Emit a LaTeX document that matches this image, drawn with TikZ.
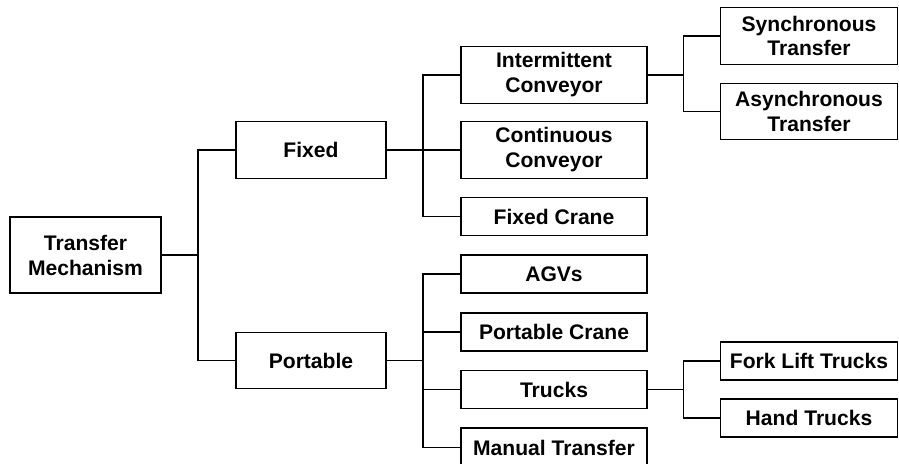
\documentclass[tikz,border=0pt]{standalone}
\usepackage{fontspec}
\setmainfont{Liberation Sans}
\usepackage{tikz}
\usetikzlibrary{positioning}

\tikzset{
    box/.style={draw, line width=0.7pt, align=center, inner sep=0pt,
        font=\fontsize{12}{14.2}\selectfont\bfseries},
    lvlone/.style={box, minimum width=3.0cm},
    lvltwo/.style={box, minimum width=3.72cm},
    lvlthree/.style={box, minimum width=3.53cm},
    tall/.style={minimum height=1.13cm},
    flat/.style={minimum height=0.76cm},
    link/.style={line width=0.6pt}
}

\begin{document}
\begin{tikzpicture}[scale=1]

        \useasboundingbox (0,0) rectangle (17.98,9.28);

        \coordinate (j1) at (3.96,0);
        \coordinate (j2) at (8.46,0);
        \coordinate (j3) at (13.67,0);

        \node[box, minimum width=3.02cm, minimum height=1.52cm] (mech) at (1.71,4.18) {Transfer\\Mechanism};

        \node[lvlone, tall] (fixed) at (6.22,6.28) {Fixed};
        \node[lvlone, tall] (portable) at (6.22,2.07) {Portable};

        \node[lvltwo, tall] (interm) at (11.08,7.78) {Intermittent\\Conveyor};
        \node[lvltwo, tall] (contin) at (11.08,6.28) {Continuous\\Conveyor};
        \node[lvltwo, flat] (fcrane) at (11.08,4.95) {Fixed Crane};
        \node[lvltwo, flat] (agvs) at (11.08,3.80) {AGVs};
        \node[lvltwo, flat] (pcrane) at (11.08,2.64) {Portable Crane};
        \node[lvltwo, flat] (trucks) at (11.08,1.49) {Trucks};
        \node[lvltwo, minimum height=0.78cm] (manual) at (11.08,0.33) {Manual Transfer};

        \node[lvlthree, tall] (sync) at (16.18,8.56) {Synchronous\\Transfer};
        \node[lvlthree, tall] (async) at (16.18,7.05) {Asynchronous\\Transfer};
        \node[lvlthree, flat] (forklift) at (16.18,2.06) {Fork Lift Trucks};
        \node[lvlthree, flat] (hand) at (16.18,0.92) {Hand Trucks};

        \path[draw, link] (mech.east) -- (mech.east -| j1);
        \path[draw, link] (fixed.west) -| (mech.east -| j1) |- (portable.west);

        \path[draw, link] (fixed.east) -- (fixed.east -| j2);
        \path[draw, link] (interm.west) -| (fixed.east -| j2) |- (fcrane.west);
        \path[draw, link] (contin.west) -- (contin.west -| j2);

        \path[draw, link] (portable.east) -- (portable.east -| j2);
        \path[draw, link] (agvs.west) -| (portable.east -| j2) |- (manual.west);
        \foreach \n in {pcrane,trucks}
            \path[draw, link] (\n.west) -- (\n.west -| j2);

        \path[draw, link] (interm.east) -- (interm.east -| j3);
        \path[draw, link] (sync.west) -| (interm.east -| j3) |- (async.west);

        \path[draw, link] (trucks.east) -- (trucks.east -| j3);
        \path[draw, link] (forklift.west) -| (trucks.east -| j3) |- (hand.west);

    \end{tikzpicture}
\end{document}
